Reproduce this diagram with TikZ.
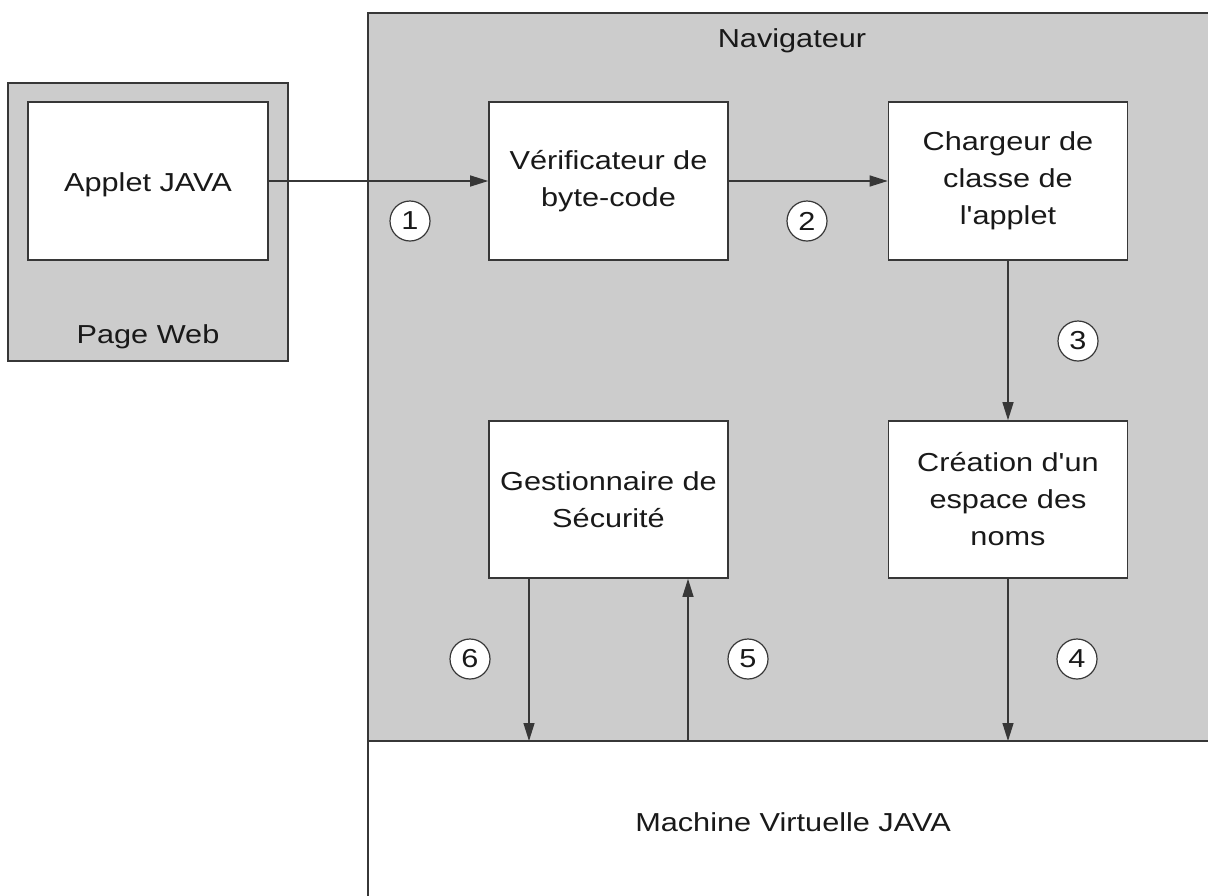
\documentclass[tikz,border=0pt]{standalone}
\usepackage{fontspec}
\setmainfont{Liberation Sans}[FakeStretch=1.18, Ligatures=TeXOff]
\usetikzlibrary{arrows.meta}
\definecolor{bggray}{RGB}{204,204,204}
\definecolor{linecol}{RGB}{55,55,55}
\definecolor{txt}{RGB}{25,25,25}
\begin{document}
\begin{tikzpicture}[x=1pt,y=-1pt,
  font=\fontsize{26pt}{37pt}\selectfont,
  box/.style={draw=linecol, line width=1.6pt, fill=white, text=txt, align=center,
    minimum width=239pt, minimum height=158pt, inner sep=0pt},
  panel/.style={draw=linecol, line width=1.6pt, inner sep=0pt},
  num/.style={circle, draw=linecol, line width=1.2pt, fill=white, minimum size=40pt,
    inner sep=0pt, text=txt},
  arr/.style={draw=linecol, line width=1.3pt, -{Triangle[length=18pt,width=11pt]}},
  lbl/.style={text=txt, inner sep=0pt}]
\fill[white] (0,0) rectangle (1208,895);
\useasboundingbox (0,0) rectangle (1208,895);

% Page Web
\node[panel, fill=bggray, minimum width=280pt, minimum height=278pt] (web) at (148,222) {};
\node[box, minimum width=240pt, minimum height=158pt] (applet) at (148,181) {};
\node[lbl, anchor=base] (appletlbl) at (148,191) {Applet JAVA};
\node[lbl, anchor=base] (weblbl) at (148,343) {Page Web};

% Navigateur and VM
\node[panel, fill=bggray, minimum width=848pt, minimum height=728pt] (nav) at (792,377) {};
\node[panel, fill=white, minimum width=848pt, minimum height=164pt] (vm) at (792,823) {};
\node[lbl, anchor=base] (navlbl) at (792,47) {Navigateur};
\node[lbl, anchor=base] (vmlbl) at (793,831) {Machine Virtuelle JAVA};

% inner boxes
\node[box] (verif) at (608.5,181) {Vérificateur de\\byte-code};
\node[box] (charg) at (1008,181) {Chargeur de\\classe de\\l'applet};
\node[box, minimum height=157pt] (gest) at (608.5,499.5) {Gestionnaire de\\Sécurité};
\node[box, minimum height=157pt] (creat) at (1008,499.5) {Création d'un\\espace des\\noms};

% connectors
\coordinate (c4) at (1008,741);
\coordinate (c5) at (688,741);
\coordinate (c6) at (529,741);
\draw[arr] (applet.east) -- (verif.west);
\draw[arr] (verif.east) -- (charg.west);
\draw[arr] (charg.south) -- (creat.north);
\draw[arr] (creat.south) -- (c4);
\draw[arr] (gest.south -| c6) -- (c6);
\draw[arr] (c5) -- (gest.south -| c5);

% numbers
\node[num] (n1) at (410,221) {1};
\node[num] (n2) at (807,221) {2};
\node[num] (n3) at (1078,341) {3};
\node[num] (n4) at (1077,659) {4};
\node[num] (n5) at (748,659) {5};
\node[num] (n6) at (470,659) {6};
\end{tikzpicture}
\end{document}
